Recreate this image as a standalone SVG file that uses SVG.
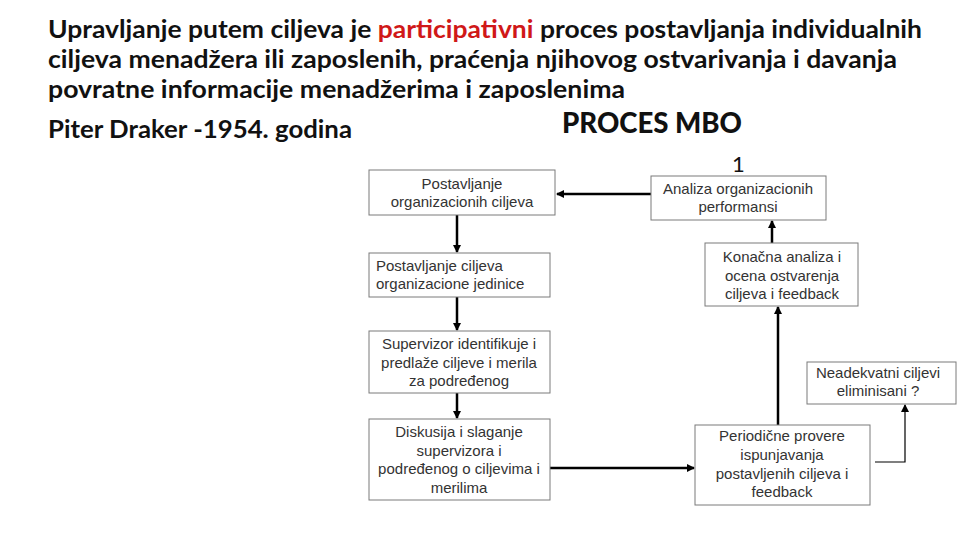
<svg xmlns="http://www.w3.org/2000/svg" width="960" height="540" viewBox="0 0 960 540">
<defs>
<style>
.h{font-family:Lato,"Open Sans","Liberation Sans",sans-serif;font-weight:bold;font-size:24px;fill:#111}
.red{fill:#d01818}
.b{fill:#fff;stroke:#7a7a7a;stroke-width:1}
.t{font-family:"Liberation Sans",Arial,sans-serif;font-size:15px;fill:#333;text-anchor:middle}
.tl{font-family:"Liberation Sans",Arial,sans-serif;font-size:15px;fill:#333}
.c{stroke:#000;stroke-width:2.5;fill:none}
.ct{stroke:#000;stroke-width:1.2;fill:none}
</style>
<marker id="ah" markerWidth="8" markerHeight="8" refX="7" refY="4" orient="auto" markerUnits="userSpaceOnUse"><path d="M0,0 L8,4 L0,8 z" fill="#000"/></marker>
</defs>
<rect width="960" height="540" fill="#fff"/>
<g id="title">
<text class="h" x="48" y="38" textLength="874" lengthAdjust="spacingAndGlyphs">Upravljanje putem ciljeva je <tspan class="red">participativni</tspan> proces postavljanja individualnih</text>
<text class="h" x="48" y="68" textLength="849" lengthAdjust="spacingAndGlyphs">ciljeva menadžera ili zaposlenih, praćenja njihovog ostvarivanja i davanja</text>
<text class="h" x="48" y="98" textLength="577" lengthAdjust="spacingAndGlyphs">povratne informacije menadžerima i zaposlenima</text>
<text class="h" x="48" y="138" textLength="304" lengthAdjust="spacingAndGlyphs">Piter Draker -1954. godina</text>
<text class="h" x="562" y="133" style="font-size:28px;font-weight:900" textLength="180" lengthAdjust="spacingAndGlyphs">PROCES MBO</text>
<text class="h" x="732" y="172" style="font-weight:normal;font-size:22px">1</text>
</g>
<g id="connectors">
<line class="c" x1="651" y1="194" x2="557" y2="194" marker-end="url(#ah)"/>
<line class="c" x1="457" y1="215" x2="457" y2="252" marker-end="url(#ah)"/>
<line class="c" x1="457" y1="297" x2="457" y2="330" marker-end="url(#ah)"/>
<line class="c" x1="457" y1="393" x2="457" y2="418" marker-end="url(#ah)"/>
<line class="c" x1="550" y1="468" x2="694" y2="468" marker-end="url(#ah)"/>
<line class="c" x1="778" y1="425" x2="778" y2="307" marker-end="url(#ah)"/>
<line class="c" x1="772" y1="243" x2="772" y2="221" marker-end="url(#ah)"/>
<polyline class="ct" points="875,462 905,462 905,405" marker-end="url(#ah)"/>
</g>
<g id="n1">
<rect class="b" x="369" y="170" width="186" height="45"/>
<text class="t" x="462" y="189">Postavljanje</text>
<text class="t" x="462" y="207">organizacionih ciljeva</text>
</g>
<g id="n2">
<rect class="b" x="369" y="253" width="181" height="44"/>
<text class="tl" x="376" y="271">Postavljanje ciljeva</text>
<text class="tl" x="376" y="289">organizacione jedinice</text>
</g>
<g id="n3">
<rect class="b" x="369" y="331" width="181" height="62"/>
<text class="t" x="459" y="349">Supervizor identifikuje i</text>
<text class="t" x="459" y="368">predlaže ciljeve i merila</text>
<text class="t" x="459" y="386">za podređenog</text>
</g>
<g id="n4">
<rect class="b" x="369" y="419" width="181" height="81"/>
<text class="t" x="459" y="437">Diskusija i slaganje</text>
<text class="t" x="459" y="456">supervizora i</text>
<text class="t" x="459" y="474">podređenog o ciljevima i</text>
<text class="t" x="459" y="493">merilima</text>
</g>
<g id="n5">
<rect class="b" x="651" y="176" width="175" height="44"/>
<text class="t" x="738" y="194">Analiza organizacionih</text>
<text class="t" x="738" y="212">performansi</text>
</g>
<g id="n6">
<rect class="b" x="705" y="243" width="153" height="63"/>
<text class="t" x="782" y="262">Konačna analiza i</text>
<text class="t" x="782" y="281">ocena ostvarenja</text>
<text class="t" x="782" y="299">ciljeva i feedback</text>
</g>
<g id="n7">
<rect class="b" x="807" y="362" width="149" height="42"/>
<text class="t" x="878" y="378">Neadekvatni ciljevi</text>
<text class="t" x="878" y="396">eliminisani ?</text>
</g>
<g id="n8">
<rect class="b" x="695" y="425" width="175" height="80"/>
<text class="t" x="782" y="441">Periodične provere</text>
<text class="t" x="782" y="460">ispunjavanja</text>
<text class="t" x="782" y="479">postavljenih ciljeva i</text>
<text class="t" x="782" y="497">feedback</text>
</g>
</svg>
